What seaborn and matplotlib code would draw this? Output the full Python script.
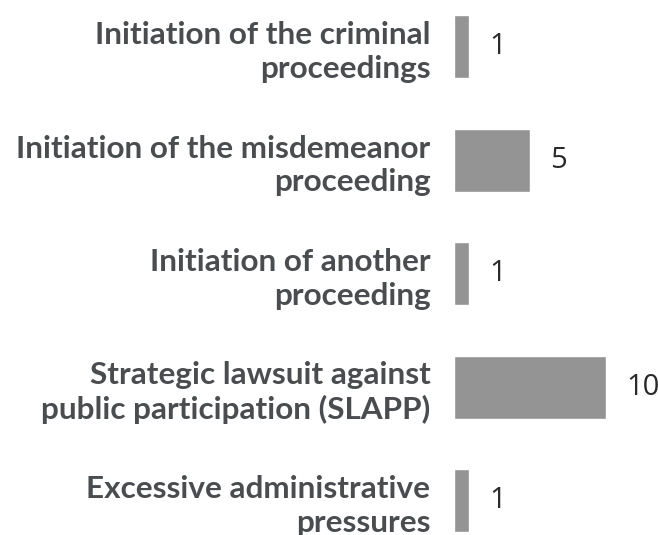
import matplotlib
matplotlib.use("Agg")
import matplotlib.pyplot as plt
from matplotlib import font_manager as fm
from matplotlib.textpath import TextPath
from matplotlib.font_manager import FontProperties
import seaborn as sns
import pandas as pd

categories = [
    "Initiation of the criminal\nproceedings",
    "Initiation of the misdemeanor\nproceeding",
    "Initiation of another\nproceeding",
    "Strategic lawsuit against\npublic participation (SLAPP)",
    "Excessive administrative\npressures",
]
values = [1, 5, 1, 10, 1]

df = pd.DataFrame({"category": categories, "value": values})

sns.set_theme(style="white")

names = {f.name for f in fm.fontManager.ttflist}
label_family = "Lato" if "Lato" in names else "DejaVu Sans"
plt.rcParams["font.family"] = [label_family, "DejaVu Sans"]

# pick a label size so the widest line spans about 412 px
longest = "Initiation of the misdemeanor"
fp = FontProperties(family=[label_family, "DejaVu Sans"], weight="bold", size=20)
w20 = TextPath((0, 0), longest, prop=fp).get_extents().width * 100 / 72
label_size = min(24.0, 20 * 412 / w20)

fig = plt.figure(figsize=(6.58, 5.35), dpi=100)
ax = fig.add_axes([454 / 658, 0, 204 / 658, 1])

sns.barplot(data=df, x="value", y="category", orient="h", color="#949495",
            saturation=1, width=0.555, ax=ax)

ax.set_xlim(0, 204 / 15.2)
ax.set_ylim(4.3, -0.414)
for s in ax.spines.values():
    s.set_visible(False)
ax.set_xticks([])
ax.set_xlabel("")
ax.set_ylabel("")
ax.tick_params(axis="y", length=0, pad=17)
for lab in ax.get_yticklabels():
    lab.set_fontsize(label_size)
    lab.set_fontweight("bold")
    lab.set_color("#4a4d4f")
    lab.set_ha("right")
    lab.set_linespacing(1.22)

for i, v in enumerate(values):
    ax.text(v + 20 / 15.2, i, str(v), va="center", ha="left",
            fontsize=21, color="#2a2a2a", family=["Open Sans", "DejaVu Sans"],
            fontweight="normal")

fig.savefig("out.png", dpi=100)
